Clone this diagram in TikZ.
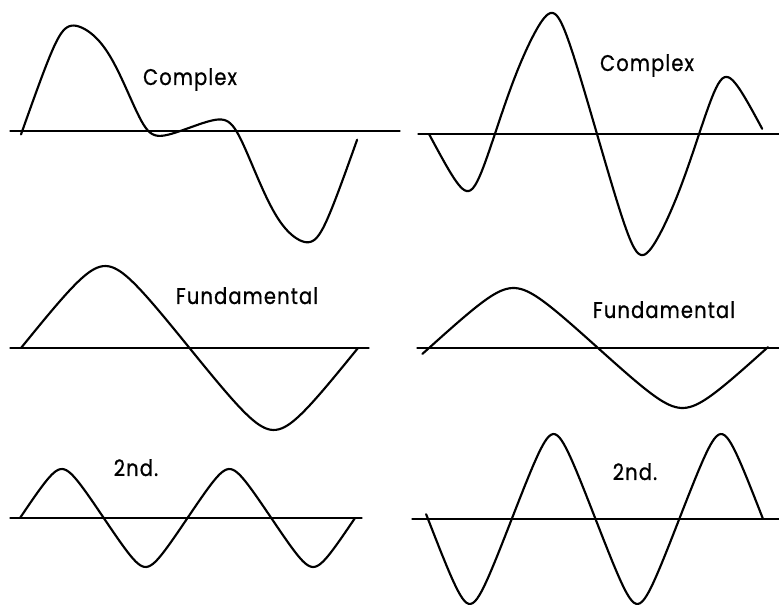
\documentclass[tikz,border=0pt]{standalone}
\usepackage{fontspec}
\setmainfont{Poppins}[LetterSpace=5,FakeStretch=0.86,FakeBold=0.8]
\begin{document}
\begin{tikzpicture}[x=0.75pt,y=0.75pt,line cap=round,
  declare function={wv(\t)=asin(0.9*sin(\t))/asin(0.9);},
  wave/.style={line width=1.6pt,line join=round},
  zero/.style={line width=0.9pt},
  lbl/.style={anchor=base,inner sep=0pt,font=\fontsize{17}{20}\selectfont}]
\useasboundingbox (0,0) rectangle (779,604);
% complex
\draw[zero] (10,473) -- (400,473);
\draw[wave,shift={(21,473)},xscale=0.9389] plot[domain=0:358,samples=160] (\x,{82*wv(\x-3)+53*wv(2*\x)});
\node[lbl] (cpxL) at (190,519) {Complex};
\draw[zero] (418,470) -- (779,470);
\draw[wave,shift={(429,470)},xscale=0.9333] plot[domain=0:357,samples=160] (\x,{52*wv(\x)-88*wv(2*\x)});
\node[lbl] (cpxR) at (647,533) {Complex};
% fundamental
\draw[zero] (10,256) -- (369,256);
\draw[wave,shift={(21,256)},xscale=0.9361] plot[domain=0:360,samples=120] (\x,{82*wv(\x)});
\node[lbl] (fundL) at (247,300) {Fundamental};
\draw[zero] (417,256) -- (779,256);
\draw[wave,shift={(429,256)},xscale=0.9389] plot[domain=-7:361,samples=120] (\x,{60*wv(\x)});
\node[lbl] (fundR) at (664,286) {Fundamental};
% 2nd harmonic
\draw[zero] (10,86) -- (362,86);
\draw[wave,shift={(20,86)},xscale=0.9306] plot[domain=0:360,samples=160] (\x,{49*wv(2*\x)});
\node[lbl] (scndL) at (136,128) {2nd.};
\draw[zero] (412,85) -- (779,85);
\draw[wave,shift={(428,85)},xscale=0.9306] plot[domain=-2:360,samples=160] (\x,{-85*wv(2*\x)});
\node[lbl] (scndR) at (635,124) {2nd.};
\end{tikzpicture}
\end{document}
